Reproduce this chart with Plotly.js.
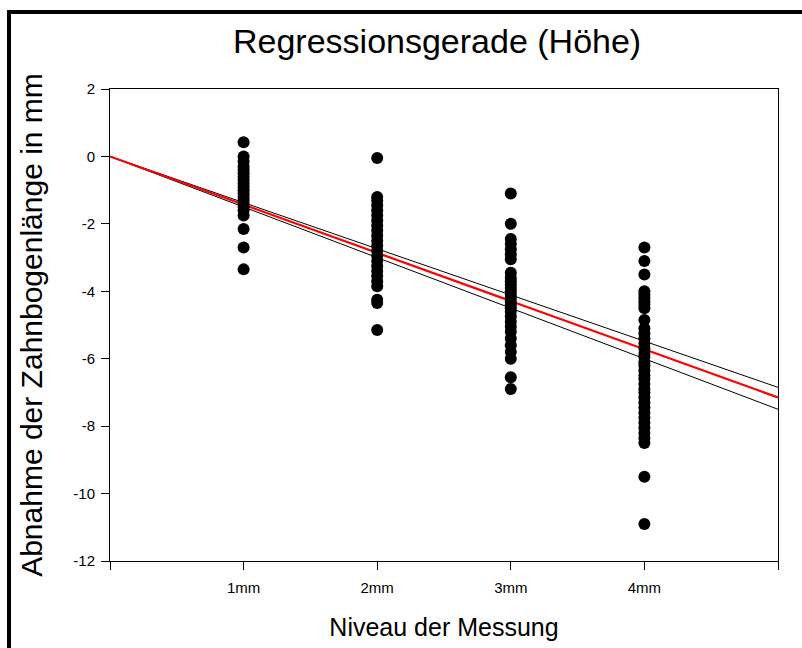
<!DOCTYPE html>
<html>
<head>
<meta charset="utf-8">
<script src="https://cdn.plot.ly/plotly-3.0.1.min.js"></script>
<style>
html,body{margin:0;padding:0;background:#fff;}
#chart{width:802px;height:648px;}
</style>
</head>
<body>
<div id="chart"></div>
<script>
// Measurement levels (x) and tick labels
const levels = [1, 2, 3, 4];
const tickVals = [0, 1, 2, 3, 4, 5];
const tickLabels = ['', '1mm', '2mm', '3mm', '4mm', ''];
const yTickVals = [-12, -10, -8, -6, -4, -2, 0, 2];
const yTickLabels = ['-12', '-10', '-8', '-6', '-4', '-2', '0', '2'];

// Observed decreases per level (mm)
const level1 = [0.42, 0.0, -0.15, -0.3, -0.4, -0.5, -0.6, -0.7, -0.8, -0.9, -1.0, -1.1, -1.2, -1.3, -1.4, -1.5, -1.6, -1.75, -2.15, -2.7, -3.35];
const level2 = [-0.05, -1.2, -1.3, -1.45, -1.6, -1.75, -1.9, -2.05, -2.2, -2.35, -2.5, -2.65, -2.8, -2.95, -3.1, -3.25, -3.4, -3.55, -3.7, -3.85, -4.25, -4.35, -5.15];
const level3 = [-1.1, -2.0, -2.45, -2.6, -2.75, -2.9, -3.05, -3.45, -3.6, -3.7, -3.8, -3.9, -4.0, -4.1, -4.2, -4.3, -4.4, -4.5, -4.6, -4.75, -4.9, -5.05, -5.2, -5.4, -5.6, -5.8, -6.0, -6.55, -6.9];
const level4 = [-2.7, -3.1, -3.5, -4.0, -4.1, -4.2, -4.3, -4.4, -4.5, -4.85, -5.1, -5.25, -5.4, -5.55, -5.7, -5.85, -5.95, -6.1, -6.2, -6.35, -6.5, -6.6, -6.75, -6.9, -7.0, -7.15, -7.3, -7.45, -7.6, -7.75, -7.9, -8.05, -8.2, -8.35, -8.5, -9.5, -10.9];

// Regression line through origin and its confidence bounds (endpoints at x = 0 and x = 5)
const lineX = [0, 5];
const regY = [0, -7.15];
const upperY = [0, -6.85];
const lowerY = [0, -7.5];

const groups = [level1, level2, level3, level4];
const px = [], py = [];
groups.forEach((g, i) => g.forEach(v => { px.push(levels[i]); py.push(v); }));

const traces = [
  {x: lineX, y: upperY, mode: 'lines', line: {color: 'black', width: 1}, hoverinfo: 'skip'},
  {x: lineX, y: lowerY, mode: 'lines', line: {color: 'black', width: 1}, hoverinfo: 'skip'},
  {x: lineX, y: regY, mode: 'lines', line: {color: '#ff0000', width: 2.2}, hoverinfo: 'skip'},
  {x: px, y: py, mode: 'markers', marker: {color: 'black', size: 12}, cliponaxis: false}
];

const L = 110, R = 24, T = 89, B = 87;
const W = 802, H = 648;
const pw = W - L - R, ph = H - T - B;

const layout = {
  width: W, height: H,
  margin: {l: L, r: R, t: T, b: B, pad: 0},
  paper_bgcolor: 'white', plot_bgcolor: 'white',
  showlegend: false,
  font: {family: 'Liberation Sans, Arial, sans-serif', color: 'black'},
  title: {text: 'Regressionsgerade (Höhe)', font: {size: 34, color: 'black'}, x: 0.545, xanchor: 'center', y: 0.937, yanchor: 'middle'},
  xaxis: {
    range: [0, 5], tickmode: 'array', tickvals: tickVals, ticktext: tickLabels,
    ticks: 'outside', ticklen: 8, tickwidth: 1, tickcolor: 'black',
    showline: true, linecolor: 'black', linewidth: 1, mirror: true,
    showgrid: false, zeroline: false, fixedrange: true,
    tickfont: {size: 15, color: 'black'}, ticklabelstandoff: 5,
    title: {text: 'Niveau der Messung', font: {size: 25, color: 'black'}, standoff: 23}
  },
  yaxis: {
    range: [-12, 2], tickmode: 'array', tickvals: yTickVals, ticktext: yTickLabels,
    ticks: 'outside', ticklen: 8, tickwidth: 1, tickcolor: 'black',
    showline: true, linecolor: 'black', linewidth: 1, mirror: true,
    showgrid: false, zeroline: false, fixedrange: true,
    tickfont: {size: 15, color: 'black'}, ticklabelstandoff: 3,
    title: {text: 'Abnahme der Zahnbogenlänge in mm', font: {size: 30, color: 'black'}, standoff: 21}
  },
  shapes: [{
    type: 'rect', xref: 'paper', yref: 'paper',
    x0: (9 - L) / pw, x1: 1.5, y0: -0.5, y1: (H - B - 12) / ph,
    line: {color: 'black', width: 4}, fillcolor: 'rgba(0,0,0,0)', layer: 'above'
  }]
};

Plotly.newPlot('chart', traces, layout, {displayModeBar: false, staticPlot: true});
</script>
</body>
</html>
